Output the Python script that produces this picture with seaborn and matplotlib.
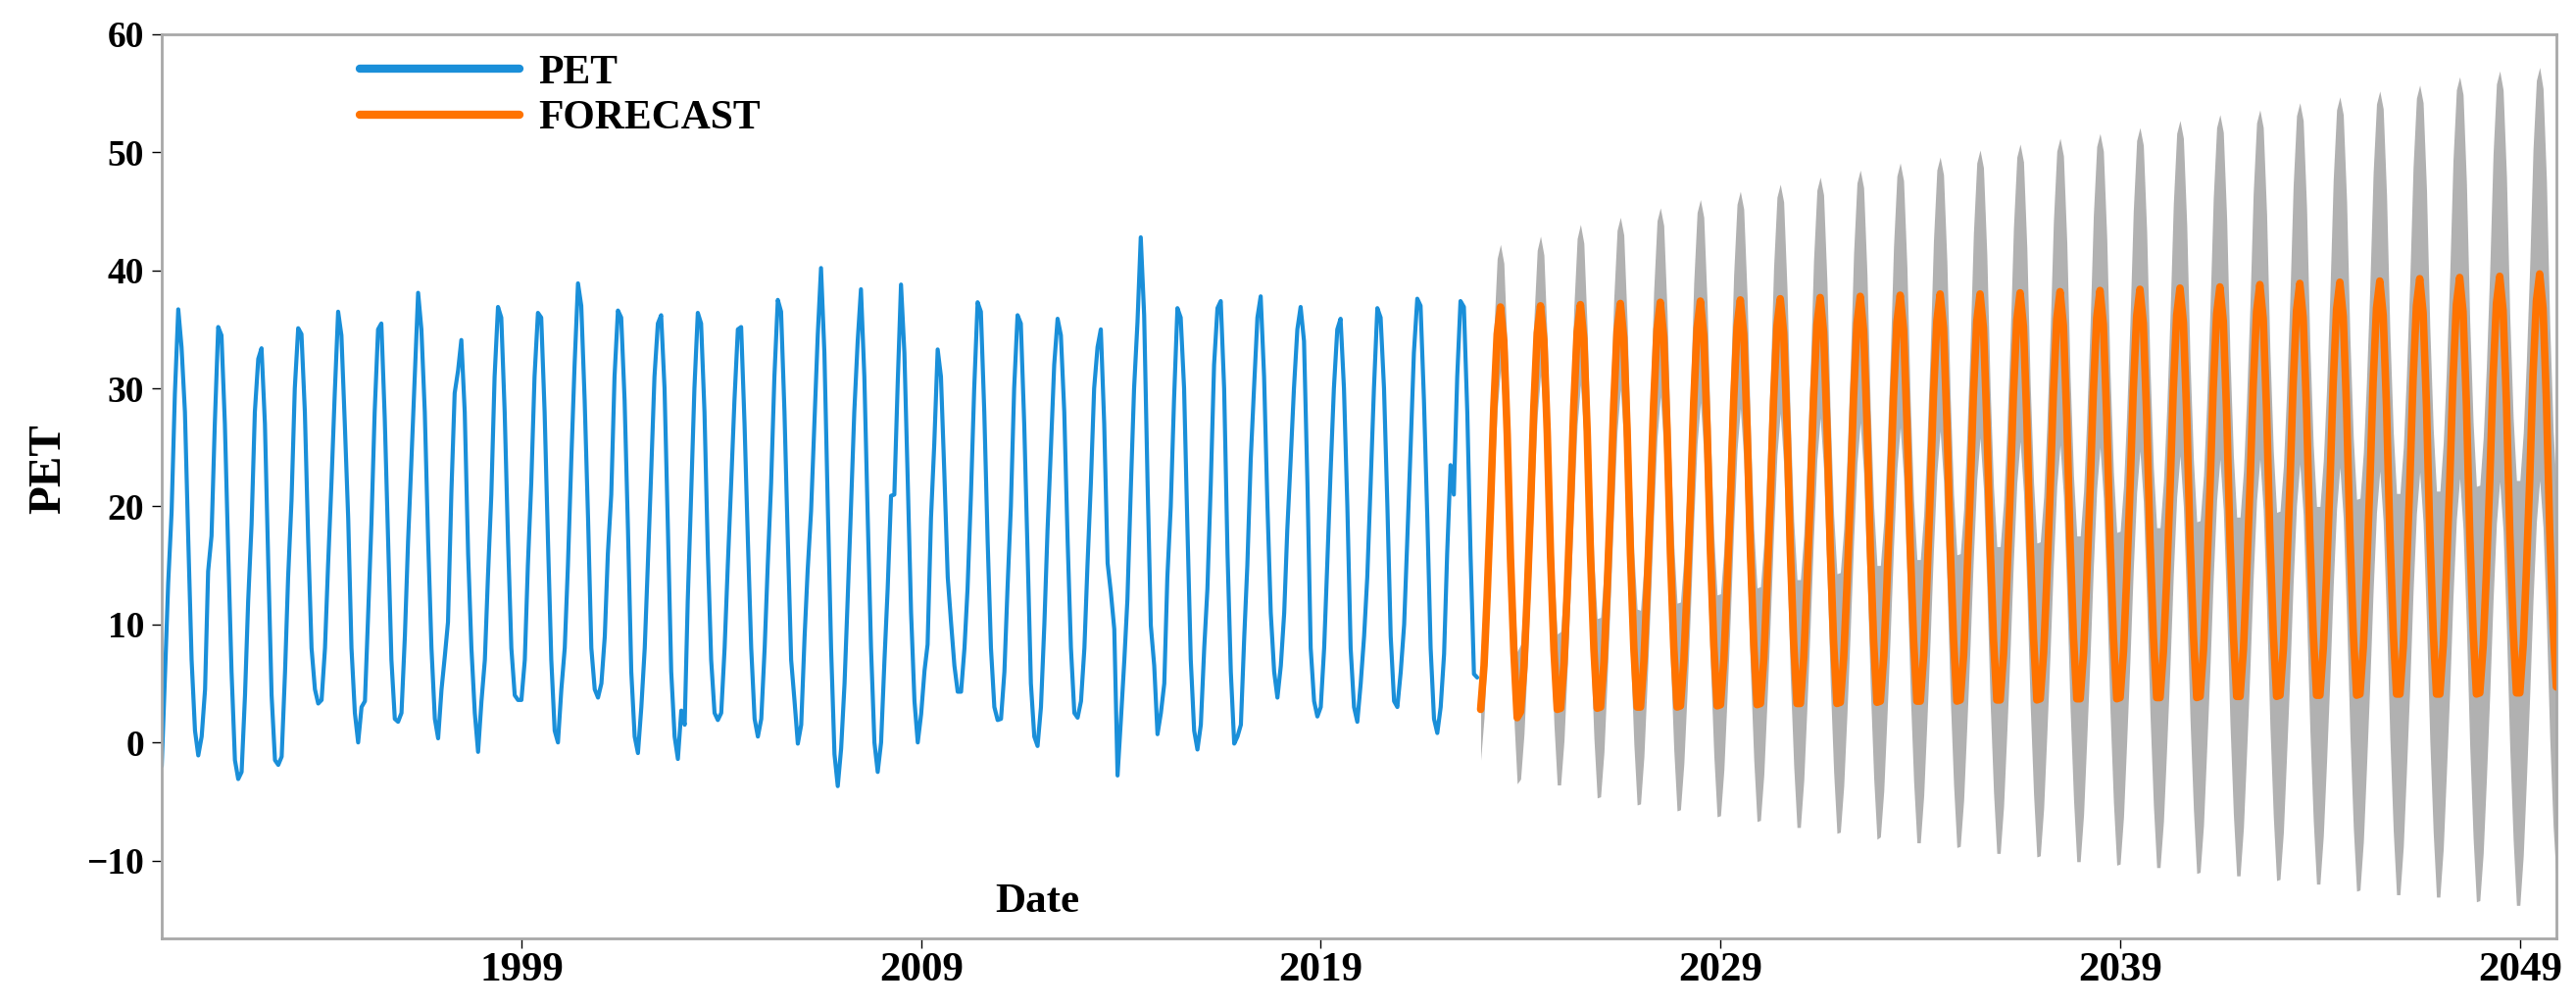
import numpy as np
import pandas as pd
import matplotlib
matplotlib.use("Agg")
import matplotlib.pyplot as plt
import matplotlib.dates as mdates
from matplotlib.lines import Line2D
import seaborn as sns

# Monthly PET, Jan..Dec, one row per year (1990-2022)
pet_by_year = [
    [-2.0, 6.0, 13.5, 19.5, 29.5, 36.7, 33.5, 28.0, 17.0, 7.0, 1.0, -1.1],     # 1990
    [0.5, 4.5, 14.5, 17.5, 27.0, 35.2, 34.5, 27.0, 16.0, 6.0, -1.5, -3.1],     # 1991
    [-2.5, 4.0, 12.0, 18.5, 28.0, 32.5, 33.4, 27.0, 15.0, 4.0, -1.5, -1.9],    # 1992
    [-1.2, 6.0, 14.0, 20.5, 30.0, 35.1, 34.6, 28.0, 17.0, 8.0, 4.5, 3.3],      # 1993
    [3.6, 8.0, 15.0, 22.0, 29.5, 36.5, 34.5, 27.0, 19.0, 8.0, 2.5, 0.0],       # 1994
    [3.0, 3.5, 10.5, 18.5, 28.0, 35.0, 35.5, 27.5, 17.0, 7.0, 2.0, 1.75],      # 1995
    [2.5, 9.0, 17.0, 24.0, 31.0, 38.1, 35.0, 28.0, 17.0, 8.0, 2.0, 0.35],      # 1996
    [4.5, 7.4, 10.2, 21.2, 29.6, 31.5, 34.1, 28.0, 16.0, 8.0, 2.5, -0.8],      # 1997
    [3.5, 7.0, 14.0, 21.0, 31.0, 36.9, 36.0, 28.0, 17.0, 8.0, 4.0, 3.6],       # 1998
    [3.6, 7.0, 15.0, 22.0, 31.0, 36.4, 36.0, 28.0, 17.0, 7.0, 1.0, 0.0],       # 1999
    [4.5, 8.0, 15.0, 24.0, 32.0, 38.9, 37.0, 29.0, 19.0, 8.0, 4.5, 3.8],       # 2000
    [5.0, 9.0, 16.0, 21.0, 31.0, 36.6, 36.0, 29.0, 18.0, 6.0, 0.5, -0.9],      # 2001
    [3.0, 8.0, 15.0, 23.0, 31.0, 35.5, 36.2, 30.0, 18.0, 6.0, 0.5, -1.4],      # 2002
    [2.7, 1.5, 12.0, 21.0, 30.0, 36.4, 35.5, 28.0, 16.0, 7.0, 2.5, 1.9],       # 2003
    [2.5, 8.0, 15.0, 22.0, 29.0, 35.0, 35.2, 27.0, 17.0, 8.0, 2.0, 0.5],       # 2004
    [2.0, 8.0, 15.0, 22.0, 31.0, 37.5, 36.5, 28.0, 17.0, 7.0, 3.5, -0.1],      # 2005
    [1.5, 9.0, 14.6, 19.6, 27.0, 34.5, 40.2, 33.0, 20.0, 8.0, -1.0, -3.7],     # 2006
    [-0.5, 5.0, 12.0, 20.0, 28.0, 34.0, 38.4, 31.0, 19.0, 8.0, 0.0, -2.5],     # 2007
    [0.0, 7.0, 13.0, 20.9, 21.0, 30.5, 38.8, 33.0, 22.0, 11.0, 3.5, 0.0],      # 2008
    [2.4, 6.1, 8.3, 19.0, 25.3, 33.3, 31.0, 22.8, 14.0, 10.2, 6.5, 4.3],       # 2009
    [4.3, 8.0, 13.0, 21.0, 30.0, 37.3, 36.5, 28.0, 17.0, 8.0, 3.0, 1.9],       # 2010
    [2.0, 6.0, 13.0, 20.0, 30.0, 36.2, 35.5, 27.0, 16.0, 5.0, 0.5, -0.3],      # 2011
    [3.0, 10.0, 18.0, 25.0, 32.0, 35.9, 34.5, 28.0, 17.0, 8.0, 2.5, 2.1],      # 2012
    [3.5, 8.0, 15.0, 22.0, 30.0, 33.5, 35.0, 27.0, 15.2, 12.7, 9.6, -2.8],     # 2013
    [2.0, 7.0, 12.1, 21.5, 30.0, 35.6, 42.8, 36.2, 22.1, 9.9, 6.5, 0.7],       # 2014
    [2.5, 5.0, 14.0, 20.0, 29.0, 36.8, 36.0, 30.0, 18.0, 7.0, 1.0, -0.6],      # 2015
    [1.5, 8.0, 13.0, 22.0, 32.0, 36.8, 37.4, 30.0, 16.0, 6.0, -0.1, 0.5],      # 2016
    [1.5, 9.0, 15.0, 24.0, 30.0, 36.0, 37.8, 31.0, 20.0, 11.0, 6.0, 3.8],      # 2017
    [6.5, 11.0, 18.0, 24.0, 30.0, 35.0, 36.9, 34.0, 22.0, 8.0, 3.5, 2.2],      # 2018
    [3.0, 8.0, 15.0, 23.0, 30.0, 35.0, 35.9, 30.0, 20.0, 8.0, 3.0, 1.75],      # 2019
    [5.0, 9.0, 14.0, 22.0, 30.0, 36.8, 36.0, 30.0, 20.0, 9.0, 3.5, 3.0],       # 2020
    [6.0, 10.0, 17.0, 25.0, 33.0, 37.6, 37.0, 29.0, 19.0, 8.0, 2.0, 0.8],      # 2021
    [3.0, 7.5, 16.0, 23.5, 21.0, 31.0, 37.4, 36.9, 28.0, 15.9, 5.8, 5.5],      # 2022
]

# Forecast, Jan..Dec, 2023-2049
forecast_by_year = [
    [2.8, 6.5, 12.3, 19.9, 28.3, 34.6, 36.9, 34.0, 26.1, 15.6, 7.6, 2.1],
    [2.6, 6.4, 12.3, 19.9, 28.4, 34.7, 37.0, 34.1, 26.2, 15.8, 7.8, 2.8],
    [2.9, 6.7, 12.6, 20.1, 28.5, 34.8, 37.1, 34.2, 26.3, 15.9, 7.9, 2.9],
    [3.0, 6.8, 12.7, 20.2, 28.6, 34.9, 37.2, 34.3, 26.4, 16.0, 8.0, 3.0],
    [3.0, 6.9, 12.8, 20.3, 28.7, 35.0, 37.3, 34.4, 26.5, 16.1, 8.1, 3.0],
    [3.1, 6.9, 12.8, 20.3, 28.8, 35.1, 37.4, 34.5, 26.6, 16.2, 8.2, 3.1],
    [3.2, 7.0, 12.9, 20.4, 28.9, 35.2, 37.5, 34.6, 26.7, 16.3, 8.3, 3.2],
    [3.3, 7.1, 13.0, 20.5, 29.0, 35.3, 37.6, 34.7, 26.8, 16.3, 8.4, 3.3],
    [3.3, 7.2, 13.1, 20.6, 29.1, 35.4, 37.7, 34.8, 26.9, 16.4, 8.4, 3.3],
    [3.4, 7.2, 13.1, 20.7, 29.2, 35.5, 37.8, 34.9, 27.0, 16.5, 8.5, 3.4],
    [3.5, 7.3, 13.2, 20.8, 29.3, 35.6, 37.9, 35.0, 27.1, 16.6, 8.6, 3.5],
    [3.5, 7.4, 13.3, 20.9, 29.4, 35.7, 38.0, 35.1, 27.2, 16.7, 8.7, 3.5],
    [3.6, 7.4, 13.4, 20.9, 29.4, 35.7, 38.0, 35.1, 27.2, 16.7, 8.7, 3.6],
    [3.6, 7.5, 13.5, 21.0, 29.5, 35.8, 38.1, 35.2, 27.3, 16.8, 8.8, 3.6],
    [3.7, 7.6, 13.5, 21.1, 29.6, 35.9, 38.2, 35.3, 27.4, 16.9, 8.9, 3.7],
    [3.7, 7.6, 13.6, 21.2, 29.7, 36.0, 38.3, 35.4, 27.5, 17.0, 8.9, 3.7],
    [3.8, 7.7, 13.7, 21.3, 29.8, 36.1, 38.4, 35.5, 27.6, 17.1, 9.0, 3.8],
    [3.8, 7.7, 13.7, 21.3, 29.9, 36.2, 38.5, 35.6, 27.7, 17.1, 9.1, 3.8],
    [3.9, 7.8, 13.8, 21.4, 30.0, 36.3, 38.6, 35.7, 27.8, 17.2, 9.1, 3.9],
    [3.9, 7.9, 13.9, 21.5, 30.2, 36.5, 38.8, 35.9, 28.0, 17.3, 9.2, 3.9],
    [4.0, 7.9, 14.0, 21.6, 30.3, 36.6, 38.9, 36.0, 28.1, 17.4, 9.3, 4.0],
    [4.0, 8.0, 14.0, 21.7, 30.4, 36.7, 39.0, 36.1, 28.2, 17.5, 9.3, 4.0],
    [4.1, 8.1, 14.1, 21.8, 30.5, 36.8, 39.1, 36.2, 28.3, 17.6, 9.4, 4.1],
    [4.1, 8.1, 14.2, 21.9, 30.7, 37.0, 39.3, 36.4, 28.5, 17.7, 9.5, 4.1],
    [4.1, 8.2, 14.3, 22.0, 30.8, 37.1, 39.4, 36.5, 28.6, 17.7, 9.5, 4.1],
    [4.2, 8.2, 14.3, 22.1, 30.9, 37.2, 39.5, 36.6, 28.7, 17.8, 9.6, 4.2],
    [4.2, 8.3, 14.4, 22.2, 31.1, 37.4, 39.7, 36.8, 28.9, 17.9, 9.7, 4.7],
]

# Half-width of the forecast interval, Jan..Dec, 2023-2049
ci_halfwidth_by_year = [
    [4.3, 4.4, 4.6, 5.3, 6.5, 6.4, 5.3, 6.6, 7.0, 6.1, 5.6, 5.6],
    [5.7, 5.7, 5.8, 6.3, 7.3, 7.0, 5.9, 7.2, 7.6, 6.7, 6.3, 6.4],
    [6.5, 6.5, 6.6, 7.1, 8.2, 7.9, 6.8, 8.1, 8.6, 7.8, 7.5, 7.6],
    [7.6, 7.6, 7.5, 7.9, 8.9, 8.5, 7.3, 8.7, 9.2, 8.4, 8.1, 8.3],
    [8.2, 8.1, 8.0, 8.5, 9.5, 9.2, 8.0, 9.4, 9.9, 9.1, 8.7, 8.8],
    [8.8, 8.7, 8.7, 9.1, 10.1, 9.8, 8.6, 10.0, 10.5, 9.7, 9.3, 9.4],
    [9.4, 9.3, 9.3, 9.7, 10.7, 10.4, 9.2, 10.6, 11.1, 10.2, 9.8, 9.9],
    [9.9, 9.8, 9.8, 10.2, 11.2, 10.9, 9.7, 11.1, 11.6, 10.8, 10.4, 10.5],
    [10.5, 10.4, 10.3, 10.7, 11.7, 11.4, 10.2, 11.6, 12.1, 11.3, 10.9, 11.0],
    [11.0, 10.9, 10.8, 11.2, 12.2, 11.9, 10.7, 12.1, 12.6, 11.8, 11.5, 11.6],
    [11.5, 11.4, 11.3, 11.7, 12.7, 12.4, 11.2, 12.6, 13.1, 12.3, 11.9, 12.0],
    [12.0, 11.9, 11.8, 12.2, 13.1, 12.8, 11.6, 13.0, 13.5, 12.7, 12.3, 12.4],
    [12.4, 12.3, 12.3, 12.7, 13.7, 13.4, 12.2, 13.6, 14.1, 13.3, 12.9, 13.0],
    [13.0, 12.9, 12.8, 13.2, 14.1, 13.8, 12.6, 14.0, 14.5, 13.6, 13.2, 13.3],
    [13.3, 13.2, 13.1, 13.5, 14.5, 14.2, 13.0, 14.4, 14.9, 14.1, 13.7, 13.8],
    [13.8, 13.7, 13.6, 14.0, 14.9, 14.5, 13.3, 14.7, 15.2, 14.4, 14.0, 14.1],
    [14.1, 14.0, 13.9, 14.3, 15.2, 14.9, 13.7, 15.1, 15.6, 14.7, 14.3, 14.4],
    [14.4, 14.4, 14.3, 14.8, 15.7, 15.4, 14.2, 15.6, 16.1, 15.2, 14.8, 14.9],
    [14.9, 14.8, 14.7, 15.2, 16.1, 15.8, 14.6, 16.0, 16.5, 15.6, 15.2, 15.2],
    [15.2, 15.1, 15.0, 15.4, 16.3, 16.0, 14.8, 16.2, 16.7, 15.9, 15.5, 15.6],
    [15.6, 15.5, 15.4, 15.9, 16.8, 16.5, 15.3, 16.7, 17.2, 16.3, 15.9, 16.0],
    [16.0, 15.9, 15.8, 16.3, 17.2, 16.9, 15.7, 17.1, 17.6, 16.8, 16.5, 16.6],
    [16.6, 16.5, 16.4, 16.8, 17.7, 17.3, 16.1, 17.5, 18.0, 17.2, 16.9, 17.0],
    [17.0, 16.9, 16.8, 17.2, 18.0, 17.6, 16.4, 17.8, 18.3, 17.5, 17.1, 17.2],
    [17.2, 17.2, 17.1, 17.6, 18.5, 18.2, 17.0, 18.4, 18.8, 18.0, 17.6, 17.6],
    [17.6, 17.6, 17.5, 18.0, 18.9, 18.6, 17.4, 18.7, 19.2, 18.3, 17.9, 18.0],
    [18.0, 17.9, 17.8, 18.2, 19.1, 18.7, 17.5, 18.6, 18.7, 17.5, 16.8, 16.5],
]

tick_years = [1999, 2009, 2019, 2029, 2039, 2049]
y_ticks = [-10, 0, 10, 20, 30, 40, 50, 60]

# Build frames
pet = np.concatenate(pet_by_year)
fc = np.concatenate(forecast_by_year)
w = np.concatenate(ci_halfwidth_by_year)

hist = pd.DataFrame({"Date": pd.date_range("1990-01-01", periods=len(pet), freq="MS"), "PET": pet})
fcst = pd.DataFrame({"Date": pd.date_range("2023-01-01", periods=len(fc), freq="MS"), "PET": fc})
fcst["lower"] = fcst["PET"] - w
fcst["upper"] = fcst["PET"] + w

# Style
sns.set_theme(style="white")
plt.rcParams["font.family"] = ["Liberation Serif", "DejaVu Serif"]
plt.rcParams["font.weight"] = "bold"
plt.rcParams["text.color"] = "black"
plt.rcParams["xtick.color"] = "black"
plt.rcParams["ytick.color"] = "black"
plt.rcParams["axes.labelcolor"] = "black"

blue = "#1a8fd9"
orange = "#ff7300"
grey = "#b1b1b1"

fig = plt.figure(figsize=(26.28, 10.28), dpi=100)
ax = fig.add_axes([165 / 2628, 1 - 957 / 1028, (2608 - 165) / 2628, (957 - 35) / 1028])

ax.fill_between(fcst["Date"], fcst["lower"], fcst["upper"], color=grey, lw=0, zorder=1)
sns.lineplot(data=hist, x="Date", y="PET", ax=ax, color=blue, lw=3.0, zorder=2)
sns.lineplot(data=fcst, x="Date", y="PET", ax=ax, color=orange, lw=5.5, zorder=3)

ax.set_xlim(hist["Date"].iloc[0], fcst["Date"].iloc[-1])
ax.set_ylim(-16.6, 60)
ax.set_yticks(y_ticks)
ax.set_xticks([pd.Timestamp(f"{y}-01-01") for y in tick_years])
ax.xaxis.set_major_formatter(mdates.DateFormatter("%Y"))

for s in ax.spines.values():
    s.set_color("#a8a8a8")
    s.set_linewidth(2)

ax.tick_params(axis="both", which="major", direction="out", length=7, width=1, color="black",
               labelcolor="black", bottom=True, left=True)
ax.tick_params(axis="y", labelsize=27, pad=6)
ax.tick_params(axis="x", labelsize=31, pad=3)
for lab in ax.get_xticklabels() + ax.get_yticklabels():
    lab.set_fontweight("bold")

ax.set_xlabel("")
ax.set_ylabel("")
fig.text(50 / 2628, 1 - 478 / 1028, "PET", rotation=90, fontsize=34, fontweight="bold",
         ha="center", va="center", color="black")
fig.text(1058 / 2628, 1 - 920 / 1028, "Date", fontsize=31, fontweight="bold",
         ha="center", va="center", color="black")

handles = [Line2D([], [], color=blue, lw=6), Line2D([], [], color=orange, lw=6)]
ax.legend(handles, ["PET", "FORECAST"], loc="upper left", bbox_to_anchor=(0.0827, 0.9776),
          frameon=False, borderaxespad=0, borderpad=0, handlelength=3.9,
          handletextpad=0.48, labelspacing=0.2, prop={"size": 30, "weight": "bold"},
          labelcolor="black")

fig.savefig("out.png", dpi=100, facecolor="white")
